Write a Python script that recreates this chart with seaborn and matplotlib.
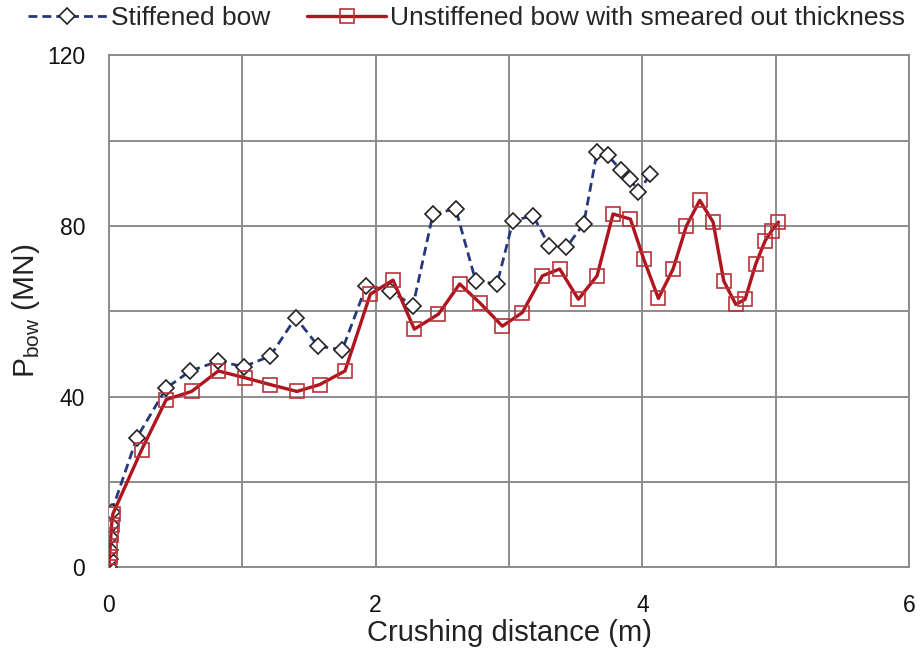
import matplotlib
matplotlib.use("Agg")
import matplotlib.pyplot as plt
from matplotlib import font_manager
import seaborn as sns
import pandas as pd

# Crushing force vs. crushing distance for the two bow models
stiff_x = [0.0, 0.005, 0.01, 0.01, 0.015, 0.02, 0.21, 0.43, 0.61, 0.82, 1.01,
           1.21, 1.40, 1.57, 1.75, 1.93, 2.11, 2.28, 2.43, 2.60, 2.75, 2.91,
           3.03, 3.18, 3.30, 3.43, 3.56, 3.66, 3.74, 3.84, 3.91, 3.97, 4.06]
stiff_y = [0.0, 2.0, 4.0, 7.0, 10.0, 13.0, 30.4, 42.0, 46.0, 48.3, 47.0,
           49.5, 58.5, 51.8, 51.0, 66.0, 64.8, 61.3, 82.8, 84.0, 67.1, 66.4,
           81.2, 82.4, 75.4, 75.0, 80.5, 97.3, 96.6, 93.0, 91.0, 87.9, 92.2]

unstiff_x = [0.0, 0.005, 0.01, 0.015, 0.02, 0.03, 0.245, 0.43, 0.62, 0.82,
             1.02, 1.21, 1.41, 1.58, 1.77, 1.96, 2.13, 2.29, 2.47, 2.63, 2.78,
             2.95, 3.10, 3.25, 3.38, 3.52, 3.66, 3.78, 3.91, 4.01, 4.12, 4.23,
             4.33, 4.43, 4.53, 4.61, 4.70, 4.77, 4.85, 4.92, 4.97, 5.02]
unstiff_y = [0.0, 2.5, 5.0, 7.5, 10.0, 12.5, 27.5, 39.3, 41.2, 46.0,
             44.4, 42.8, 41.2, 42.8, 46.0, 64.0, 67.3, 55.8, 59.3, 66.4, 62.0,
             56.5, 59.7, 68.3, 69.9, 62.8, 68.3, 82.8, 81.6, 72.2, 63.0, 69.9,
             80.0, 86.0, 80.9, 67.1, 61.6, 62.8, 71.1, 76.5, 78.9, 80.9]

series_names = ["Stiffened bow", "Unstiffened bow with smeared out thickness"]
x_major = [0, 2, 4, 6]
x_minor = [1, 3, 5]
y_major = [0, 40, 80, 120]
y_minor = [20, 60, 100]

sns.set_theme(style="white")
plt.rcParams["font.family"] = ["Liberation Sans", "DejaVu Sans"]
installed = {f.name for f in font_manager.fontManager.ttflist}
legend_family = "Liberation Sans Narrow" if "Liberation Sans Narrow" in installed else "Liberation Sans"

fig = plt.figure(figsize=(9.23, 6.58), dpi=100)
ax = fig.add_axes([0.118, 0.138, 0.867, 0.778])

df_s = pd.DataFrame({"x": stiff_x, "y": stiff_y})
df_u = pd.DataFrame({"x": unstiff_x, "y": unstiff_y})

sns.lineplot(data=df_s, x="x", y="y", ax=ax, sort=False, estimator=None,
             color="#27387a", linewidth=2.0, linestyle=(0, (3.2, 1.8)),
             marker="D", markersize=8.5, markerfacecolor="white",
             markeredgecolor="#222222", markeredgewidth=1.2,
             label=series_names[0], zorder=3)
sns.lineplot(data=df_u, x="x", y="y", ax=ax, sort=False, estimator=None,
             color="#b0141e", linewidth=2.4,
             marker="s", markersize=10, markerfacecolor="none",
             markeredgecolor="#b8343a", markeredgewidth=1.2,
             label=series_names[1], zorder=4)

ax.set_xlim(0, 6)
ax.set_ylim(0, 120)
ax.set_xticks(x_major)
ax.set_xticks(x_minor, minor=True)
ax.set_yticks(y_major)
ax.set_yticks(y_minor, minor=True)
ax.grid(True, which="both", color="#8c8c8c", linewidth=1.4)
ax.set_axisbelow(True)
for sp in ax.spines.values():
    sp.set_visible(True)
    sp.set_color("#8c8c8c")
    sp.set_linewidth(1.4)
ax.tick_params(which="both", length=0, labelsize=16.5, colors="#111111")
ax.tick_params(axis="y", pad=17)
ax.tick_params(axis="x", pad=19)

ax.set_xlabel("Crushing distance (m)", fontsize=21, color="#222222", labelpad=2)
ax.set_ylabel(r"P$_{\mathregular{bow}}$ (MN)", fontsize=21.5, color="#222222", labelpad=4)

ax.legend(loc="center", bbox_to_anchor=(0.447, 1.073), ncol=2, frameon=False,
          prop={"family": legend_family, "size": 19}, handlelength=3.0,
          handletextpad=0.15, columnspacing=1.4, borderaxespad=0.0)

fig.savefig("out.png", dpi=100, facecolor="white")
